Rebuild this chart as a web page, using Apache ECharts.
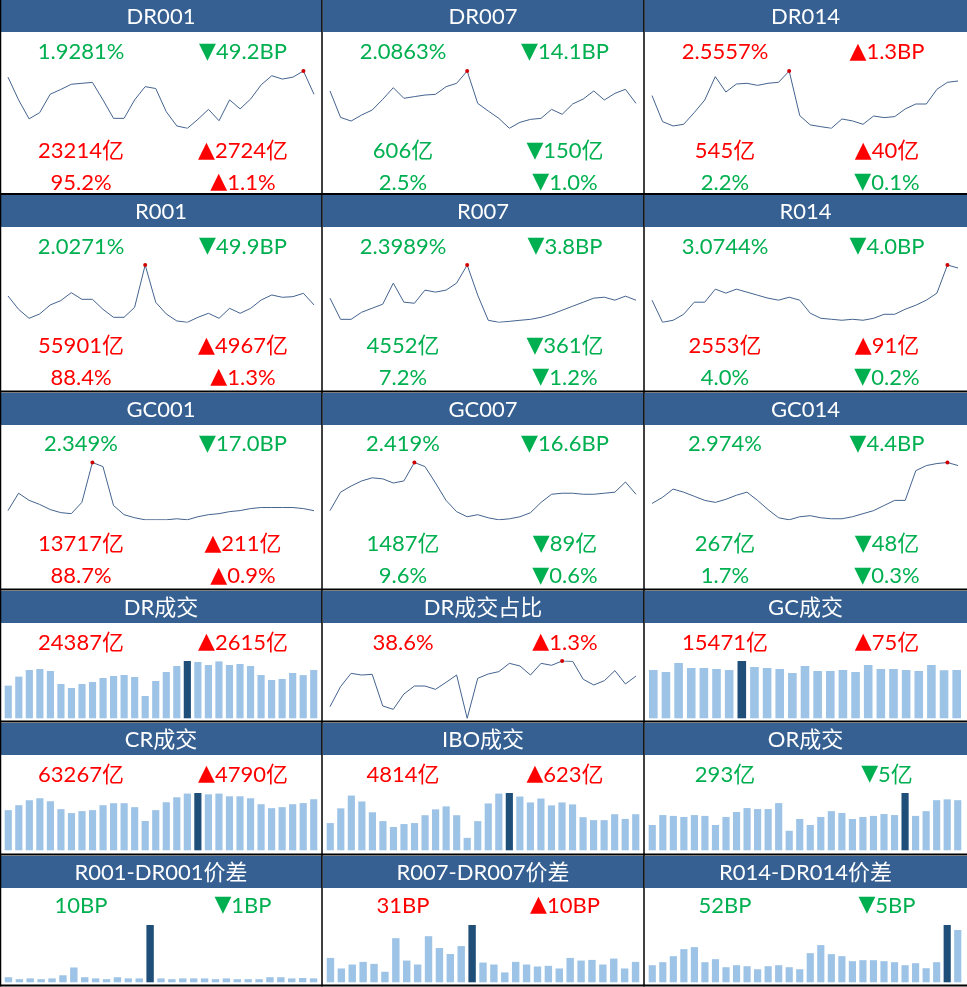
<!DOCTYPE html>
<html>
<head>
<meta charset="utf-8">
<script src="https://cdn.jsdelivr.net/npm/echarts@6.0.0/dist/echarts.min.js"></script>
<style>
html, body { margin: 0; padding: 0; background: #fff; }
#chart { width: 967px; height: 987px; }
</style>
</head>
<body>
<div id="chart"></div>
<script>
// panel titles, row by row
const titles = ['DR001', 'DR007', 'DR014', 'R001', 'R007', 'R014', 'GC001', 'GC007', 'GC014',
  'DR成交', 'DR成交占比', 'GC成交', 'CR成交', 'IBO成交', 'OR成交',
  'R001-DR001价差', 'R007-DR007价差', 'R014-DR014价差'];

// rate panels: latest value / change, volume / change, share / change
const rate = ['1.9281%', '2.0863%', '2.5557%', '2.0271%', '2.3989%', '3.0744%', '2.349%', '2.419%', '2.974%'];
const rateChg = ['-49.2BP', '-14.1BP', '+1.3BP', '-49.9BP', '-3.8BP', '-4.0BP', '-17.0BP', '-16.6BP', '-4.4BP'];
const volume = ['23214亿', '606亿', '545亿', '55901亿', '4552亿', '2553亿', '13717亿', '1487亿', '267亿'];
const volumeChg = ['+2724亿', '-150亿', '+40亿', '+4967亿', '-361亿', '+91亿', '+211亿', '-89亿', '-48亿'];
const share = ['95.2%', '2.5%', '2.2%', '88.4%', '7.2%', '4.0%', '88.7%', '9.6%', '1.7%'];
const shareChg = ['+1.1%', '-1.0%', '-0.1%', '+1.3%', '-1.2%', '-0.2%', '+0.9%', '-0.6%', '-0.3%'];

// volume / spread panels
const lowVal = ['24387亿', '38.6%', '15471亿', '63267亿', '4814亿', '293亿', '10BP', '31BP', '52BP'];
const lowChg = ['+2615亿', '+1.3%', '+75亿', '+4790亿', '+623亿', '-5亿', '-1BP', '+10BP', '-5BP'];

// rate history (%)
const dr001 = [2.29, 1.81, 1.41, 1.54, 1.93, 2.03, 2.14, 2.16, 2.18, 1.81, 1.42, 1.42, 1.81, 2.09, 2.05, 1.56, 1.26, 1.21, 1.40, 1.61, 1.37, 1.81, 1.62, 1.83, 2.13, 2.32, 2.25, 2.29, 2.4201, 1.9281];
const dr007 = [2.211, 1.945, 1.908, 1.969, 2.019, 2.127, 2.244, 2.137, 2.154, 2.170, 2.177, 2.254, 2.288, 2.412, 2.086, 2.009, 1.935, 1.835, 1.895, 1.925, 1.935, 2.026, 1.976, 2.080, 2.130, 2.211, 2.120, 2.187, 2.2273, 2.0863];
const dr014 = [2.413, 2.159, 2.117, 2.133, 2.247, 2.370, 2.598, 2.448, 2.526, 2.533, 2.513, 2.533, 2.543, 2.653, 2.218, 2.127, 2.110, 2.094, 2.185, 2.166, 2.133, 2.214, 2.198, 2.208, 2.283, 2.331, 2.331, 2.474, 2.5427, 2.5557];
const r001 = [2.412, 1.841, 1.456, 1.642, 2.027, 2.212, 2.554, 2.269, 2.269, 1.841, 1.499, 1.499, 1.927, 3.738, 2.141, 1.642, 1.342, 1.285, 1.499, 1.670, 1.456, 1.884, 1.670, 1.884, 2.241, 2.455, 2.355, 2.383, 2.5261, 2.0271];
const r007 = [2.418, 2.218, 2.218, 2.285, 2.323, 2.361, 2.560, 2.380, 2.370, 2.494, 2.475, 2.494, 2.560, 2.731, 2.446, 2.209, 2.190, 2.199, 2.209, 2.218, 2.237, 2.266, 2.304, 2.342, 2.380, 2.418, 2.427, 2.399, 2.4369, 2.3989];
const r014 = [2.649, 2.356, 2.383, 2.462, 2.622, 2.622, 2.795, 2.742, 2.795, 2.755, 2.715, 2.675, 2.649, 2.688, 2.649, 2.476, 2.409, 2.396, 2.383, 2.396, 2.383, 2.409, 2.462, 2.462, 2.529, 2.582, 2.649, 2.742, 3.1144, 3.0744];
const gc001 = [2.355, 3.80, 3.205, 2.865, 2.44, 2.185, 2.10, 3.035, 6.35, 6.01, 2.78, 2.015, 1.76, 1.59, 1.59, 1.59, 1.675, 1.59, 1.845, 2.015, 2.10, 2.27, 2.355, 2.525, 2.61, 2.61, 2.61, 2.61, 2.519, 2.349];
const gc007 = [2.198, 2.447, 2.530, 2.599, 2.641, 2.627, 2.571, 2.599, 2.848, 2.793, 2.571, 2.336, 2.184, 2.115, 2.143, 2.101, 2.074, 2.087, 2.115, 2.170, 2.309, 2.419, 2.433, 2.433, 2.419, 2.419, 2.433, 2.447, 2.585, 2.419];
const gc014 = [2.430, 2.518, 2.636, 2.592, 2.533, 2.474, 2.445, 2.489, 2.548, 2.592, 2.474, 2.342, 2.224, 2.195, 2.239, 2.254, 2.224, 2.210, 2.210, 2.239, 2.283, 2.327, 2.401, 2.474, 2.474, 2.900, 2.974, 3.003, 3.018, 2.974];

// volumes (亿), share (%), spreads (BP)
const drVol = [16464, 21000, 24360, 24864, 23856, 17304, 15288, 17304, 18312, 20328, 21336, 21840, 20832, 11256, 18816, 23352, 26376, 28896, 28392, 26880, 28700, 26880, 27384, 26376, 21840, 19320, 19824, 22848, 21772, 24387];
const drShare = [33.61, 36.87, 39.03, 38.76, 38.87, 33.72, 33.18, 35.67, 36.97, 36.97, 36.43, 37.57, 38.76, 31.72, 38.22, 38.93, 39.31, 40.66, 40.23, 38.76, 40.66, 40.34, 41.04, 40.99, 38.06, 37.14, 37.84, 39.47, 37.3, 38.6];
const gcVol = [15471, 14831, 17712, 16112, 16112, 15792, 15471, 18352, 16432, 16112, 15792, 14511, 16752, 15151, 15151, 15471, 14831, 17072, 15792, 15792, 15471, 15151, 17072, 15396, 15471];
const crVol = [49776, 55896, 62016, 64464, 60792, 51000, 46104, 48552, 49776, 55896, 58344, 58344, 53448, 36312, 49776, 59568, 65688, 70300, 71000, 69360, 70300, 66912, 66912, 64464, 57120, 52224, 53448, 57120, 58477, 63267];
const iboVol = [3632, 5601, 7308, 6520, 5076, 3895, 3107, 3501, 3632, 4682, 5470, 5864, 4682, 1663, 3895, 6258, 7570, 7650, 7177, 6389, 6914, 5995, 6389, 6126, 4420, 4026, 4026, 4814, 4191, 4814];
const orVol = [148, 206, 201, 195, 206, 201, 148, 195, 224, 247, 241, 241, 276, 114, 183, 148, 195, 229, 218, 183, 195, 201, 212, 206, 335, 201, 229, 293, 298, 293];
const spread001 = [13, 8, 10, 8, 10, 18, 38, 13, 10, 8, 13, 10, 10, 147, 10, 8, 10, 10, 10, 8, 10, 8, 8, 8, 13, 13, 10, 11, 10];
const spread007 = [37, 21, 27, 31, 28, 16, 67, 33, 27, 70, 52, 43, 55, 87, 30, 27, 15, 31, 27, 24, 25, 21, 37, 33, 34, 27, 36, 21, 31];
const spread014 = [17, 20, 26, 33, 35, 20, 23, 15, 17, 16, 13, 16, 17, 15, 13, 29, 37, 28, 26, 21, 22, 22, 21, 20, 17, 19, 14, 20, 57, 52];

const upperData = [dr001, dr007, dr014, r001, r007, r014, gc001, gc007, gc014];
const lowerData = [
  { type: 'bar', data: drVol }, { type: 'line', data: drShare }, { type: 'bar', data: gcVol },
  { type: 'bar', data: crVol }, { type: 'bar', data: iboVol }, { type: 'bar', data: orVol },
  { type: 'bar', data: spread001 }, { type: 'bar', data: spread007 }, { type: 'bar', data: spread014 }
];

const HEAD = '#366092';
const RED = '#ff0000';
const GREEN = '#00b050';
const LINE = '#44638f';
const LIGHT = '#9dc3e6';
const DARK = '#1f4e79';
const FAMILY = 'Lato, "DejaVu Sans", "Noto Sans CJK SC", sans-serif';

const colX = [0, 322, 644];
const colW = [322, 322, 323];
const headTop = [0, 195, 393, 591, 723, 856];
const plotTop = [71, 265, 462.5, 661, 793, 925];
const plotH = 57.3;
const upperTextY = [[52, 151, 182.5], [246.5, 346, 377.5], [444, 544, 576]];
const lowerTextY = [642.5, 774.5, 905.5];

const graphic = [];
const grid = [], xAxis = [], yAxis = [], series = [];

function addText(x, y, text, color, rich) {
  const style = {
    text: text, fill: color, fontSize: 22, fontFamily: FAMILY,
    align: 'center', verticalAlign: 'middle', textAlign: 'center', textVerticalAlign: 'middle'
  };
  if (rich) style.rich = rich;
  graphic.push({ type: 'text', x: x, y: y, silent: true, style: style });
}

function addPair(col, y, val, chg) {
  const up = chg.charAt(0) !== '-';
  const c = up ? RED : GREEN;
  addText(colX[col] + 81, y, val, c);
  addText(colX[col] + 243, y, '{t|' + (up ? '▲' : '▼') + '}' + chg.slice(1), c, {
    t: { fontFamily: '"DejaVu Sans"', fontSize: 22, fill: c }
  });
}

function addChart(k, col, row, type, data) {
  const isBar = type === 'bar';
  grid.push({
    left: colX[col] + (isBar ? 3 : 8),
    width: isBar ? 316 : 306,
    top: plotTop[row],
    height: plotH
  });
  xAxis.push({ gridIndex: k, type: 'category', show: false, boundaryGap: isBar, data: data.map((_, i) => i) });
  yAxis.push({ gridIndex: k, type: 'value', show: false, scale: true, min: isBar ? 0 : 'dataMin', max: 'dataMax' });
  if (isBar) {
    const max = Math.max.apply(null, data);
    series.push({
      type: 'bar', xAxisIndex: k, yAxisIndex: k, barWidth: '68%', silent: true,
      data: data.map(v => ({ value: v, itemStyle: { color: v === max ? DARK : LIGHT } }))
    });
  } else {
    series.push({
      type: 'line', xAxisIndex: k, yAxisIndex: k, data: data, showSymbol: false, silent: true,
      lineStyle: { color: LINE, width: 1 },
      markPoint: {
        symbol: 'circle', symbolSize: 4, silent: true,
        itemStyle: { color: '#d00000' }, label: { show: false },
        data: [{ type: 'max' }]
      }
    });
  }
}

titles.forEach((t, i) => {
  const col = i % 3, row = Math.floor(i / 3);
  graphic.push({
    type: 'rect', silent: true,
    shape: { x: colX[col] + 1, y: headTop[row], width: colW[col] - 1, height: 32 },
    style: { fill: HEAD }
  });
  addText(colX[col] + colW[col] / 2, headTop[row] + 17, t, '#ffffff');
});

upperData.forEach((d, i) => {
  const col = i % 3, row = Math.floor(i / 3);
  addPair(col, upperTextY[row][0], rate[i], rateChg[i]);
  addPair(col, upperTextY[row][1], volume[i], volumeChg[i]);
  addPair(col, upperTextY[row][2], share[i], shareChg[i]);
  addChart(i, col, row, 'line', d);
});

lowerData.forEach((p, i) => {
  const col = i % 3, row = 3 + Math.floor(i / 3);
  addPair(col, lowerTextY[row - 3], lowVal[i], lowChg[i]);
  addChart(9 + i, col, row, p.type, p.data);
});

// cell borders
[194, 391.5, 589.5, 721.5, 854.5, 985.5].forEach(y => {
  graphic.push({ type: 'line', silent: true, shape: { x1: 0, y1: y, x2: 967, y2: y }, style: { stroke: '#000', lineWidth: 2 } });
});
[0.5, 322, 644].forEach(x => {
  graphic.push({ type: 'line', silent: true, shape: { x1: x, y1: 0, x2: x, y2: 986.5 }, style: { stroke: '#000', lineWidth: 1.5 } });
});

const chart = echarts.init(document.getElementById('chart'));
chart.setOption({
  animation: false,
  backgroundColor: '#fff',
  grid: grid,
  xAxis: xAxis,
  yAxis: yAxis,
  series: series,
  graphic: { elements: graphic }
});
</script>
</body>
</html>
